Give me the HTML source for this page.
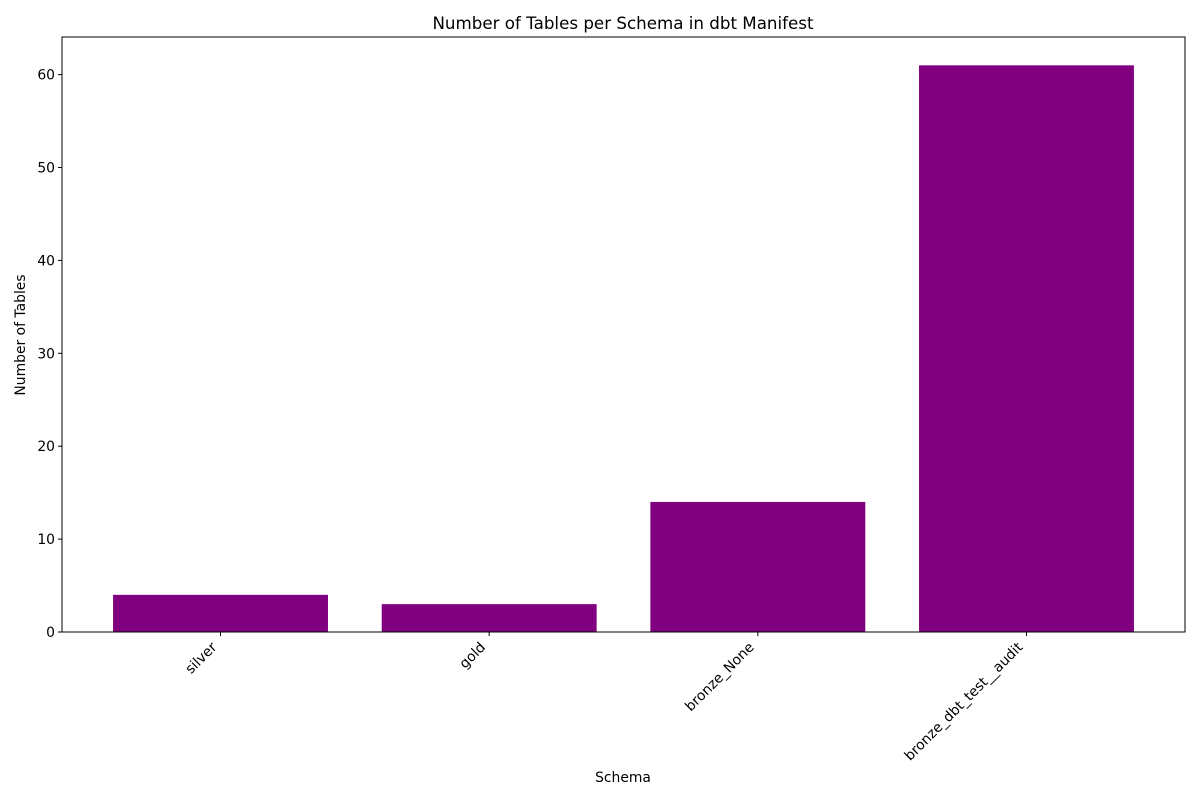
<!DOCTYPE html>
<html><head><meta charset="utf-8"><style>
body{margin:0;background:#fff;font-family:"DejaVu Sans","Liberation Sans",sans-serif}
</style></head><body>
<svg width="1200" height="800" viewBox="0 0 1200 800" xmlns="http://www.w3.org/2000/svg" font-family="DejaVu Sans, Liberation Sans, sans-serif">
<rect width="1200" height="800" fill="#fff"/>
<text x="623" y="29" font-size="16.7" text-anchor="middle">Number of Tables per Schema in dbt Manifest</text>
<g id="plot"></g>
<rect x="62" y="37" width="1123" height="595" fill="none" stroke="#000" stroke-width="1"/>
<text x="623" y="782" font-size="13.9" text-anchor="middle">Schema</text>
<text x="25" y="335" font-size="13.9" text-anchor="middle" transform="rotate(-90 25 335)">Number of Tables</text>
</svg>
<script>
const categories = ["silver","gold","bronze_None","bronze_dbt_test__audit"];
const values = [4,3,14,61];
const yTicks = [0,10,20,30,40,50,60];
const NS="http://www.w3.org/2000/svg";
const L=62,R=1185,T=37,B=632;
const yMax=64.05;
function ys(v){return B-(v/yMax)*(B-T);}
const xMin=-0.59,xMax=categories.length-1+0.59;
function xs(i){return L+(i-xMin)/(xMax-xMin)*(R-L);}
const bw=0.8*(R-L)/(xMax-xMin);
const g=document.getElementById('plot');
function mk(t,a){const e=document.createElementNS(NS,t);for(const k in a)e.setAttribute(k,a[k]);g.appendChild(e);return e;}
values.forEach((v,i)=>{
  const r=mk('rect',{x:xs(i)-bw/2,y:ys(v),width:bw,height:ys(0)-ys(v),fill:'#800080'});
  
  
});
yTicks.forEach(t=>{
  const y=ys(t);
  const l=mk('line',{x1:L-4,x2:L,y1:y,y2:y,stroke:'#000'});
  
  
  const tx=mk('text',{x:L-7,y:y+5,'font-size':13.9,'text-anchor':'end'});
  tx.textContent=t;
  
  
});
categories.forEach((c,i)=>{
  const x=xs(i);
  const l=mk('line',{x1:x,x2:x,y1:B,y2:B+4,stroke:'#000'});
  
  
  const ax=x-3, ay=B+16;
  const tx=mk('text',{x:ax,y:ay,'font-size':13.9,'text-anchor':'end',transform:`rotate(-45 ${ax} ${ay})`});
  tx.textContent=c;
  
  
});
</script>
</body></html>
